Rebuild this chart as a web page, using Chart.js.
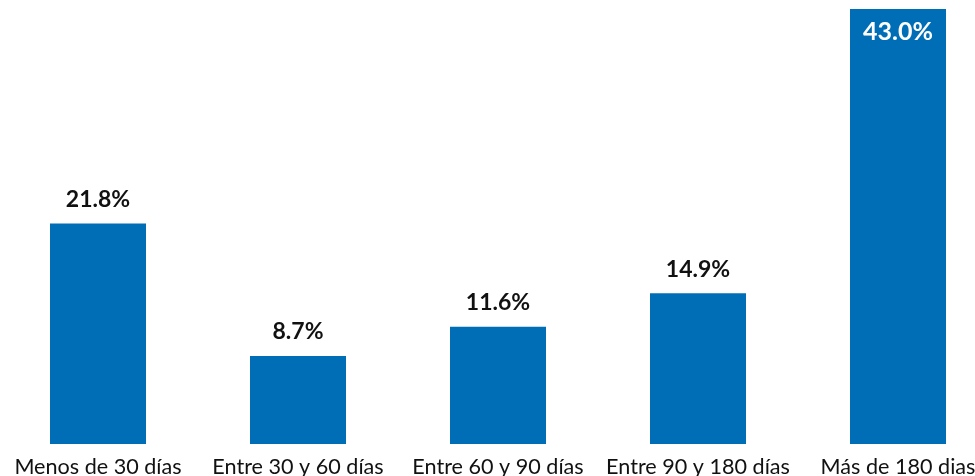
<!DOCTYPE html>
<html>
<head>
<meta charset="utf-8">
<script src="https://cdn.jsdelivr.net/npm/chart.js@4/dist/chart.umd.min.js"></script>
<style>
  html, body { margin: 0; padding: 0; background: #fff; overflow: hidden; }
  #wrap { position: absolute; left: -2px; top: 0; width: 1000px; height: 476px; }
</style>
</head>
<body>
<div id="wrap"><canvas id="chart"></canvas></div>
<script>
// Plazo de cobro - porcentaje por tramo
const categories = ['Menos de 30 días', 'Entre 30 y 60 días', 'Entre 60 y 90 días', 'Entre 90 y 180 días', 'Más de 180 dias'];
const values = [21.8, 8.7, 11.6, 14.9, 43.0];

const BLUE = '#006EB6';
const FONT = 'Lato, "Open Sans", sans-serif';

// draw the % labels above each bar (inside for the tallest one)
const valueLabels = {
    id: 'valueLabels',
    afterDatasetsDraw(chart) {
        const ctx = chart.ctx;
        const meta = chart.getDatasetMeta(0);
        const maxVal = Math.max(...values);
        ctx.save();
        ctx.textAlign = 'center';
        ctx.textBaseline = 'middle';
        meta.data.forEach((bar, i) => {
            const txt = values[i].toFixed(1) + '%';
            if (values[i] === maxVal) {
                ctx.font = 'bold 25px ' + FONT;
                ctx.fillStyle = '#ffffff';
                ctx.fillText(txt, bar.x, bar.y + 23);
            } else {
                ctx.font = 'bold 23px ' + FONT;
                ctx.fillStyle = '#111111';
                ctx.fillText(txt, bar.x, bar.y - 24);
            }
        });
        ctx.restore();
    }
};

new Chart(document.getElementById('chart'), {
    type: 'bar',
    data: {
        labels: categories,
        datasets: [{
            data: values,
            backgroundColor: BLUE,
            borderWidth: 0,
            barPercentage: 0.96,
            categoryPercentage: 0.5
        }]
    },
    options: {
        responsive: true,
        maintainAspectRatio: false,
        animation: false,
        layout: { padding: { top: 9, left: 0, right: 0, bottom: 0 } },
        plugins: {
            legend: { display: false },
            tooltip: { enabled: false }
        },
        scales: {
            x: {
                grid: { display: false },
                border: { display: false },
                afterFit(scale) { scale.height = 32; },
                ticks: {
                    color: '#111111',
                    font: { family: FONT, size: 21.6 },
                    padding: 2,
                    maxRotation: 0,
                    autoSkip: false
                }
            },
            y: {
                display: false,
                min: 0,
                max: 43.0
            }
        }
    },
    plugins: [valueLabels]
});
</script>
</body>
</html>
